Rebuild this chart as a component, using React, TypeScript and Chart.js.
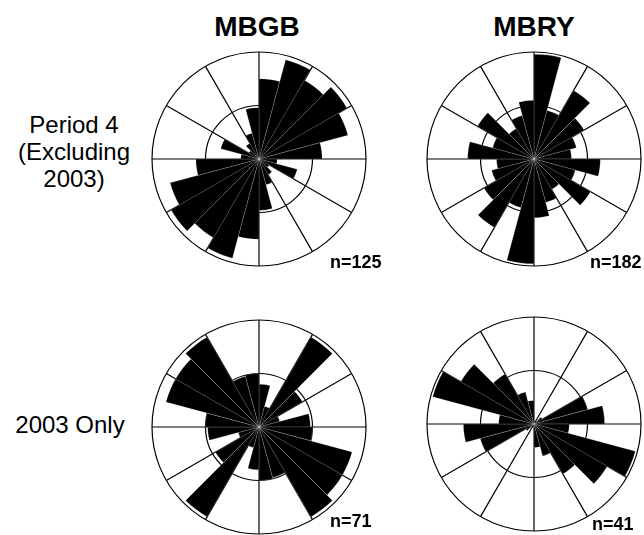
import React, { useEffect, useRef } from "react";
import { Chart, registerables } from "chart.js";

Chart.register(...registerables);

// 15-degree direction bins, clockwise from north
const binLabels = [
  "0-15", "15-30", "30-45", "45-60", "60-75", "75-90",
  "90-105", "105-120", "120-135", "135-150", "150-165", "165-180",
  "180-195", "195-210", "210-225", "225-240", "240-255", "255-270",
  "270-285", "285-300", "300-315", "315-330", "330-345", "345-360",
];

// relative bin frequency (% of outer ring)
const mbgbPeriod4 = [75, 96, 85, 95, 86, 59, 17, 37, 11, 17, 25, 48, 75, 96, 85, 95, 86, 59, 17, 37, 11, 17, 25, 48];
const mbryPeriod4 = [98, 47, 74, 54, 41, 35, 62, 40, 61, 33, 42, 55, 98, 47, 74, 54, 41, 35, 62, 40, 61, 33, 42, 55];
const mbgb2003 = [40, 20, 97, 47, 20, 48, 50, 90, 90, 97, 49, 50, 40, 20, 97, 47, 20, 48, 50, 90, 90, 97, 49, 50];
const mbry2003 = [0, 0, 0, 9, 52, 66, 33, 98, 79, 54, 31, 22, 0, 0, 0, 9, 52, 66, 33, 98, 79, 54, 31, 22];

const columnTitles = ["MBGB", "MBRY"];
const rowLabels = [["Period 4", "(Excluding", "2003)"], ["2003 Only"]];
const sampleSizes = ["n=125", "n=182", "n=71", "n=41"];

const FONT = '"Liberation Sans", Arial, Helvetica, sans-serif';

function Rose({ data, cx, cy }: { data: number[]; cx: number; cy: number }) {
  const ref = useRef<HTMLCanvasElement | null>(null);
  useEffect(() => {
    if (!ref.current) return;
    const chart = new Chart(ref.current, {
      type: "polarArea",
      data: {
        labels: binLabels,
        datasets: [
          {
            data,
            backgroundColor: "#000",
            borderColor: "rgba(255,255,255,0.6)",
            borderWidth: 0.3,
          },
        ],
      },
      options: {
        animation: false,
        responsive: false,
        maintainAspectRatio: false,
        layout: { padding: 3 },
        plugins: { legend: { display: false }, tooltip: { enabled: false } },
        scales: {
          r: {
            min: 0,
            max: 100,
            ticks: { display: false, stepSize: 50 },
            grid: { circular: true, color: "#000", lineWidth: 1.2 },
            angleLines: {
              display: true,
              lineWidth: 1.2,
              color: (c: any) => (c.index % 2 === 0 ? "#000" : "rgba(0,0,0,0)"),
            },
            pointLabels: { display: false },
          },
        },
      } as any,
    });
    return () => chart.destroy();
  }, [data]);
  return (
    <canvas
      ref={ref}
      width={220}
      height={220}
      style={{ position: "absolute", left: cx - 110, top: cy - 110, width: 220, height: 220 }}
    />
  );
}

function Txt({ text, x, baseline, size, bold, align }: { text: string; x: number; baseline: number; size: number; bold?: boolean; align: "center" | "left" }) {
  const top = baseline - 0.846 * size;
  const style: React.CSSProperties = {
    position: "absolute",
    top,
    fontFamily: FONT,
    fontSize: size,
    lineHeight: `${size}px`,
    fontWeight: bold ? "bold" : "normal",
    whiteSpace: "nowrap",
    color: "#000",
  };
  if (align === "center") {
    style.left = x - 150;
    style.width = 300;
    style.textAlign = "center";
  } else {
    style.left = x;
  }
  return <div style={style}>{text}</div>;
}

export default function App() {
  return (
    <div style={{ position: "absolute", left: 0, top: 0, width: 644, height: 535, background: "#fff", overflow: "hidden" }}>
      <Txt text={columnTitles[0]} x={257} baseline={37} size={28} bold align="center" />
      <Txt text={columnTitles[1]} x={534} baseline={37} size={28} bold align="center" />
      {rowLabels[0].map((t, i) => (
        <Txt key={t} text={t} x={74} baseline={133 + i * 27} size={24} align="center" />
      ))}
      <Txt text={rowLabels[1][0]} x={70} baseline={433} size={24} align="center" />
      <Rose data={mbgbPeriod4} cx={259} cy={159} />
      <Rose data={mbryPeriod4} cx={534} cy={159} />
      <Rose data={mbgb2003} cx={259} cy={427} />
      <Rose data={mbry2003} cx={534} cy={424} />
      <Txt text={sampleSizes[0]} x={330} baseline={268} size={18} bold align="left" />
      <Txt text={sampleSizes[1]} x={590} baseline={268} size={18} bold align="left" />
      <Txt text={sampleSizes[2]} x={330} baseline={527} size={18} bold align="left" />
      <Txt text={sampleSizes[3]} x={592} baseline={530} size={18} bold align="left" />
    </div>
  );
}
